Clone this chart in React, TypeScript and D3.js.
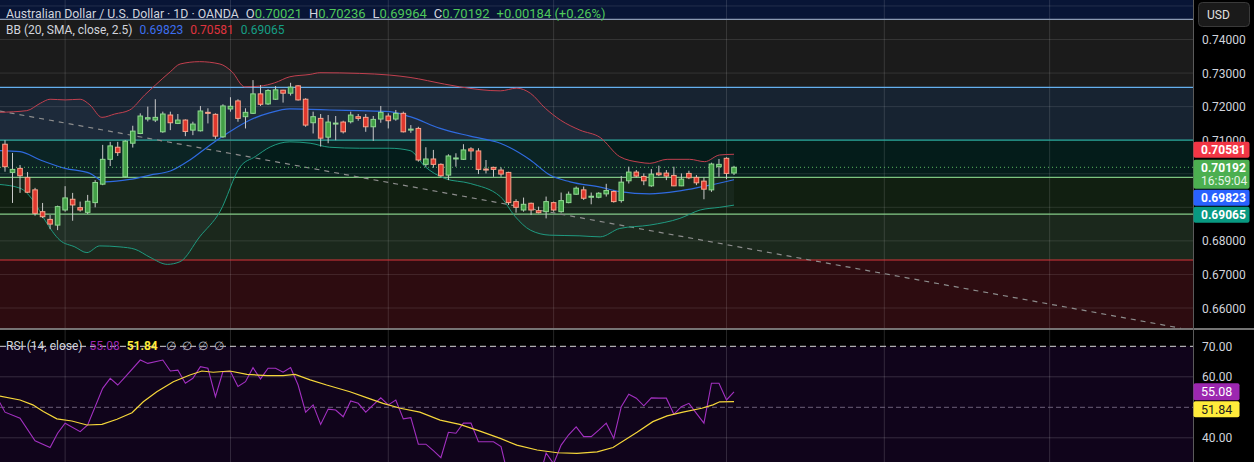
import React from 'react';
import * as d3 from 'd3';

// daily OHLC, AUD/USD
const opens = [
  0.7088, 0.7004, 0.7016, 0.6989, 0.6952, 0.6887, 0.6864, 0.6847, 0.6892, 0.6924,
  0.6899, 0.6885, 0.6914, 0.6969, 0.7043, 0.7079, 0.6991, 0.7091, 0.712, 0.7163,
  0.716, 0.7125, 0.7175, 0.715, 0.716, 0.713, 0.7128, 0.7183, 0.7177, 0.711,
  0.7193, 0.7217, 0.717, 0.718, 0.7238, 0.7208, 0.7222, 0.7249, 0.724, 0.7262,
  0.7222, 0.7152, 0.7165, 0.7109, 0.715, 0.7154, 0.7155, 0.717, 0.7168, 0.714,
  0.7163, 0.7172, 0.7163, 0.718, 0.7132, 0.7135, 0.7028, 0.7044, 0.7028, 0.6996,
  0.7046, 0.7043, 0.7074, 0.7068, 0.7014, 0.7019, 0.7011, 0.7004, 0.6917, 0.6892,
  0.6912, 0.689, 0.6887, 0.6914, 0.6887, 0.6914, 0.6939, 0.6952, 0.6932, 0.693,
  0.694, 0.6947, 0.692, 0.6979, 0.7005, 0.6992, 0.6964, 0.7002, 0.7002, 0.6995,
  0.6964, 0.7001, 0.6989, 0.6978, 0.6952, 0.7021, 0.7046, 0.70021,
];
const highs = [
  0.71, 0.7062, 0.7026, 0.7005, 0.6958, 0.6913, 0.6877, 0.6905, 0.6963, 0.6943,
  0.6917, 0.6937, 0.6981, 0.7086, 0.7095, 0.7095, 0.71, 0.7143, 0.718, 0.72,
  0.7222, 0.7185, 0.7185, 0.7178, 0.7162, 0.7155, 0.7202, 0.7195, 0.718, 0.7207,
  0.7228, 0.7222, 0.7195, 0.7279, 0.7264, 0.7252, 0.7261, 0.725, 0.7271, 0.7264,
  0.7225, 0.7185, 0.7178, 0.7175, 0.7172, 0.7158, 0.7185, 0.7178, 0.7178, 0.7172,
  0.7202, 0.718, 0.719, 0.7185, 0.7145, 0.714, 0.7079, 0.7071, 0.7031, 0.7058,
  0.7061, 0.7088, 0.7079, 0.7076, 0.7041, 0.7021, 0.7019, 0.7006, 0.6924, 0.6929,
  0.6914, 0.6902, 0.6932, 0.6917, 0.6944, 0.6947, 0.6962, 0.6962, 0.6944, 0.6945,
  0.697, 0.695, 0.6993, 0.7021, 0.7011, 0.7001, 0.7014, 0.7024, 0.7011, 0.7021,
  0.7001, 0.7009, 0.6996, 0.6989, 0.7033, 0.7044, 0.7049, 0.70236,
];
const lows = [
  0.7006, 0.6913, 0.6943, 0.6943, 0.6875, 0.6868, 0.6835, 0.6832, 0.6887, 0.686,
  0.6887, 0.688, 0.69, 0.6966, 0.7023, 0.7053, 0.6989, 0.7078, 0.7118, 0.7156,
  0.7154, 0.7122, 0.713, 0.7148, 0.7112, 0.7115, 0.7126, 0.715, 0.7104, 0.7107,
  0.7185, 0.7155, 0.7135, 0.7178, 0.7202, 0.7205, 0.722, 0.7212, 0.7233, 0.7218,
  0.714, 0.712, 0.7081, 0.7091, 0.71, 0.712, 0.715, 0.7158, 0.7125, 0.7098,
  0.7152, 0.7135, 0.7158, 0.7123, 0.7122, 0.7036, 0.7021, 0.7018, 0.6991, 0.6981,
  0.7021, 0.7041, 0.7041, 0.6999, 0.7001, 0.6991, 0.6991, 0.6907, 0.6884, 0.6887,
  0.6877, 0.6882, 0.6867, 0.6887, 0.6884, 0.6912, 0.6937, 0.6922, 0.6909, 0.6927,
  0.6932, 0.6914, 0.6914, 0.6971, 0.6989, 0.6966, 0.6961, 0.6993, 0.6981, 0.6963,
  0.6963, 0.6984, 0.6966, 0.6924, 0.6946, 0.6991, 0.6984, 0.69964,
];
const closes = [
  0.7021, 0.7013, 0.6994, 0.6945, 0.6882, 0.6872, 0.685, 0.6902, 0.6928, 0.6907,
  0.6892, 0.6918, 0.6974, 0.7043, 0.7083, 0.7063, 0.7097, 0.7127, 0.7172, 0.7167,
  0.7168, 0.7178, 0.7152, 0.716, 0.7126, 0.7148, 0.7187, 0.7182, 0.7112, 0.7202,
  0.7201, 0.7165, 0.7183, 0.7238, 0.7207, 0.7248, 0.725, 0.724, 0.7258, 0.722,
  0.7145, 0.717, 0.7106, 0.7154, 0.7151, 0.7125, 0.7175, 0.7165, 0.714, 0.7162,
  0.7183, 0.7158, 0.718, 0.7125, 0.7133, 0.7041, 0.7044, 0.7028, 0.6994, 0.7053,
  0.7047, 0.7071, 0.7068, 0.7013, 0.7013, 0.7013, 0.6999, 0.6914, 0.69, 0.6909,
  0.6892, 0.6884, 0.6917, 0.6892, 0.692, 0.6939, 0.6957, 0.6927, 0.6933, 0.6942,
  0.695, 0.6917, 0.6975, 0.7005, 0.6993, 0.6979, 0.6999, 0.6997, 0.6993, 0.6964,
  0.6984, 0.6988, 0.6973, 0.6954, 0.7029, 0.7028, 0.7001, 0.70192,
];

// Bollinger bands, sampled [bar index, price]
const bbUpper: [number, number][] = [
  [-0.7, 0.7183], [2.9, 0.7188], [4.7, 0.721], [6, 0.7222], [8, 0.722], [10, 0.7222],
  [11.3, 0.7205], [12.9, 0.7168], [14.6, 0.7178], [16.6, 0.719], [18.6, 0.7235],
  [20, 0.7264], [22, 0.7304], [23.3, 0.7327], [25.9, 0.7334], [28.6, 0.7327],
  [30.2, 0.7304], [31.9, 0.7259], [33.9, 0.7261], [35.9, 0.7271], [37.9, 0.7289],
  [40.6, 0.7296], [41.9, 0.7301], [47.2, 0.7299], [51.2, 0.7294], [53.9, 0.7287],
  [58.5, 0.7267], [60.5, 0.7259], [65.9, 0.7247], [68.1, 0.7255], [69.9, 0.724],
  [71.9, 0.7195], [73.9, 0.716], [76.5, 0.713], [79.2, 0.7108], [81.8, 0.7051],
  [84.5, 0.7034], [85.8, 0.7031], [88.1, 0.7043], [91.1, 0.7043], [93.1, 0.7036],
  [95.1, 0.7056], [97, 0.70581],
];
const bbBasis: [number, number][] = [
  [-0.7, 0.7069], [2, 0.7066], [4.7, 0.7041], [8, 0.7016], [11.3, 0.7001],
  [13.3, 0.6976], [16.6, 0.6983], [19.3, 0.6996], [22, 0.7008], [24.6, 0.7041],
  [27.3, 0.7086], [29.9, 0.7125], [32.6, 0.716], [35.3, 0.7182], [37.9, 0.7193],
  [40.6, 0.7192], [43.2, 0.719], [47.2, 0.7188], [51.2, 0.7185], [53.9, 0.717],
  [57.9, 0.7135], [61.9, 0.7112], [65.9, 0.7091], [69.9, 0.7041], [72.5, 0.6996],
  [75.2, 0.6976], [79.2, 0.696], [81.8, 0.6947], [85.8, 0.694], [89.8, 0.6949],
  [93.8, 0.6966], [97, 0.69823],
];
const bbLower: [number, number][] = [
  [-0.7, 0.6968], [2, 0.6957], [4, 0.6912], [5.3, 0.6862], [7.3, 0.6802],
  [9.3, 0.6782], [10.9, 0.6765], [12.6, 0.6785], [15.3, 0.6782], [17.3, 0.6775],
  [19.3, 0.6751], [21.6, 0.673], [23.3, 0.6738], [25.9, 0.6812], [28.6, 0.6887],
  [31.3, 0.7021], [33.3, 0.7051], [35.3, 0.708], [37.9, 0.7095], [40.6, 0.7091],
  [43.2, 0.7079], [47.2, 0.7076], [51.2, 0.7076], [53.9, 0.7069], [55.9, 0.7021],
  [58.5, 0.6986], [61.9, 0.6971], [65.9, 0.6932], [67.9, 0.6872], [69.9, 0.6832],
  [72.5, 0.6817], [76.5, 0.6815], [79.2, 0.6812], [81.8, 0.6837], [85.8, 0.6847],
  [89.8, 0.6867], [92.5, 0.6892], [95.1, 0.69], [97, 0.69065],
];

// RSI(14) and its moving average, [bar index, value]
const rsi: [number, number][] = [
  [-0.7, 51.6], [0, 48.4], [2, 46.4], [4, 39], [6, 36.8], [7, 41.5], [8, 44.8],
  [10, 42], [11, 44.2], [13, 56.2], [14, 59.5], [15, 57.3], [16, 60], [18, 65.5],
  [19, 64.4], [21, 65.5], [22, 61.9], [23, 62.2], [24, 57.9], [25, 59.5], [26, 63.3],
  [27, 62.8], [28, 53.5], [29, 61.7], [30, 61.7], [31, 56.8], [32, 58.4], [33, 63],
  [34, 59.3], [35, 62.8], [36, 62.8], [37, 61.5], [38, 63], [39, 57.3], [40, 48.4],
  [41, 50.8], [42, 44.4], [43, 49.4], [44, 49.1], [45, 46.9], [46, 52.1], [47, 51.3],
  [48, 48.4], [49, 50.8], [50, 53.1], [51, 50.8], [52, 52.4], [53, 46.2], [54, 46.6],
  [55, 37.9], [56, 37.9], [57, 35.8], [58, 33.5], [59, 41.8], [60, 41.5], [61, 44.8],
  [62, 44.8], [63, 38.7], [64, 38.7], [65, 38.7], [66, 37.1], [67, 27], [68, 25.5],
  [69, 28], [70, 26.5], [71, 26], [72, 35], [73, 31.5], [74, 37.6], [75, 41],
  [76, 43.6], [77, 40.4], [78, 40.4], [79, 42.5], [80, 44.8], [81, 39.8], [82, 50.2],
  [83, 54.3], [84, 53], [85, 50.5], [86, 53.1], [87, 53], [88, 53], [89, 47.7],
  [90, 50.2], [91, 51.3], [92, 48], [93, 44.8], [94, 57.9], [95, 57.9], [96, 52.4],
  [97, 55.08],
];
const rsiMa: [number, number][] = [
  [-0.7, 53.7], [2, 52.4], [3.7, 50.8], [5.1, 48.6], [6.9, 46.2], [8.9, 45.5],
  [10.9, 44.2], [12.9, 44.4], [14.9, 46.1], [16.9, 48.2], [18.4, 51.8], [20.2, 55.1],
  [22.4, 58.4], [24.6, 60.6], [26.2, 61.9], [27.7, 61.5], [29.9, 61.9], [32.2, 60.8],
  [34.9, 60.4], [37, 60.4], [38.6, 60.8], [40.6, 59], [42.8, 57.3], [45.9, 55.1],
  [48.2, 53.1], [50.3, 51.3], [52.6, 49.7], [55.2, 48.4], [57.9, 45.8], [60.5, 44.4],
  [63.2, 42.2], [65.9, 39.8], [68.1, 37.6], [70.8, 36], [73.5, 35.1], [76.1, 34.9],
  [78.8, 35.4], [80.9, 36.8], [84.1, 41.8], [86.2, 45.3], [88.1, 47.2], [90.2, 48.4],
  [92.7, 49.7], [94.2, 50.8], [95.1, 51.8], [97, 51.84],
];

// horizontal levels drawn on the chart (top to bottom) and the trend line
const levelPrices = [0.746, 0.72576, 0.71, 0.69894, 0.688, 0.6743];
const trendLine: [number, number][] = [[-0.7, 0.7187], [156.4, 0.654]];
const monthStarts = [8, 30, 51, 73, 96, 117, 139];
// axis labels that are not hidden behind the value tags
const priceTicks = [0.74, 0.73, 0.72, 0.71, 0.68, 0.67, 0.66];
const priceGrid = [0.75, 0.74, 0.73, 0.72, 0.71, 0.7, 0.69, 0.68, 0.67, 0.66, 0.65];
const rsiTicks = [70, 60, 40];

const W = 1254;
const H = 462;
const AXIS_X = 1193.5;
const PANE_BOTTOM = 328.5;
const RSI_TOP = 329.5;
const FONT = 'Roboto, "Noto Sans", sans-serif';

const bandColors = ['#081536', '#1b1b1b', '#172331', '#041c1a', '#111f11', '#1b281c', '#2d0c10'];
const levelColors = ['#8b9ab3', '#64b0ef', '#26a69a', '#7cc47f', '#86cc88', '#d8353b'];

const UP = '#43a047';
const UP_EDGE = '#8fd891';
const DOWN = '#e0382e';
const DOWN_EDGE = '#f7a48c';

const App: React.FC = () => {
  const x = d3.scaleLinear().domain([0, 97]).range([5, 734]);
  const y = d3.scaleLinear().domain([0.66, 0.74]).range([308, 39.5]);
  const yr = d3.scaleLinear().domain([40, 70]).range([437.8, 346.3]);

  const priceLine = d3
    .line<[number, number]>()
    .x((d) => x(d[0]))
    .y((d) => y(d[1]))
    .curve(d3.curveMonotoneX);
  const rsiLine = d3
    .line<[number, number]>()
    .x((d) => x(d[0]))
    .y((d) => yr(d[1]));

  const bandFill =
    priceLine(bbUpper) + 'L' + priceLine(bbLower.slice().reverse())!.slice(1) + 'Z';

  // level bands
  const edges = [0, ...levelPrices.map((p) => y(p)), PANE_BOTTOM];

  const last = closes.length - 1;
  const lastY = y(closes[last]);

  // right axis tags, stacked like TradingView does
  const greenTop = lastY - 7.5;
  const tags = [
    { top: greenTop - 18, h: 16, fill: '#f23645', text: bbUpper[bbUpper.length - 1][1].toFixed(5) },
    { top: greenTop + 30, h: 16, fill: '#2962ff', text: bbBasis[bbBasis.length - 1][1].toFixed(5) },
    { top: greenTop + 47, h: 16, fill: '#089981', text: bbLower[bbLower.length - 1][1].toFixed(5) },
  ];
  const rsiLast = rsi[rsi.length - 1][1];
  const maLast = rsiMa[rsiMa.length - 1][1];
  const purpleTop = yr(rsiLast) - 8.5;

  return (
    <svg
      width={W}
      height={H}
      style={{ position: 'absolute', left: 0, top: 0, background: '#000' }}
      fontFamily={FONT}
    >
      <defs>
        <clipPath id="pane">
          <rect x={0} y={0} width={AXIS_X} height={PANE_BOTTOM} />
        </clipPath>
        <clipPath id="rsiPane">
          <rect x={0} y={RSI_TOP} width={AXIS_X} height={H - RSI_TOP} />
        </clipPath>
      </defs>

      {/* price pane */}
      <g clipPath="url(#pane)">
        {bandColors.map((c, i) => (
          <rect key={i} x={0} y={edges[i]} width={AXIS_X} height={edges[i + 1] - edges[i]} fill={c} />
        ))}
        {priceGrid.map((p) => (
          <line key={p} x1={0} x2={AXIS_X} y1={y(p)} y2={y(p)} stroke="rgba(255,255,255,0.11)" />
        ))}
        {monthStarts.map((m) => (
          <line key={m} x1={x(m)} x2={x(m)} y1={0} y2={PANE_BOTTOM} stroke="rgba(255,255,255,0.13)" />
        ))}
        {levelPrices.map((p, i) => (
          <line key={p} x1={0} x2={AXIS_X} y1={y(p)} y2={y(p)} stroke={levelColors[i]} strokeWidth={1.2} />
        ))}
        <path d={bandFill} fill="rgba(130,170,210,0.06)" />
        <line
          x1={x(trendLine[0][0])}
          y1={y(trendLine[0][1])}
          x2={x(trendLine[1][0])}
          y2={y(trendLine[1][1])}
          stroke="#8c8c8c"
          strokeWidth={1.2}
          strokeDasharray="5,5"
        />
        <path d={priceLine(bbUpper)!} fill="none" stroke="#c2404f" strokeWidth={1} />
        <path d={priceLine(bbBasis)!} fill="none" stroke="#2f6be0" strokeWidth={1.2} />
        <path d={priceLine(bbLower)!} fill="none" stroke="#1f9a80" strokeWidth={1} />
        <line x1={0} x2={AXIS_X} y1={lastY} y2={lastY} stroke="#5cb85f" strokeDasharray="1,3" />

        {closes.map((c, i) => (
          <line key={'w' + i} x1={x(i)} x2={x(i)} y1={y(highs[i])} y2={y(lows[i])} stroke="#c9c9c9" />
        ))}
        {closes.map((c, i) => {
          const o = opens[i];
          const up = c >= o;
          const top = y(Math.max(o, c));
          const h = Math.max(1, y(Math.min(o, c)) - top);
          return (
            <rect
              key={'b' + i}
              x={x(i) - 2.3}
              y={top}
              width={4.6}
              height={h}
              fill={up ? UP : DOWN}
              stroke={up ? UP_EDGE : DOWN_EDGE}
              strokeWidth={1}
            />
          );
        })}
      </g>

      {/* header legend */}
      <text x={6} y={18} fontSize={13} fill="#d1d4dc">
        <tspan fontSize={12.3}>Australian Dollar / U.S. Dollar · 1D · OANDA</tspan>
        <tspan dx={7}>O</tspan>
        <tspan fill="#4fc85a">{opens[last].toFixed(5)}</tspan>
        <tspan dx={7}>H</tspan>
        <tspan fill="#4fc85a">{highs[last].toFixed(5)}</tspan>
        <tspan dx={7}>L</tspan>
        <tspan fill="#4fc85a">{lows[last].toFixed(5)}</tspan>
        <tspan dx={7}>C</tspan>
        <tspan fill="#4fc85a">{closes[last].toFixed(5)}</tspan>
        <tspan dx={7} fill="#4fc85a">+0.00184 (+0.26%)</tspan>
      </text>
      <text x={6} y={34} fontSize={12} fill="#d1d4dc">
        <tspan>BB (20, SMA, close, 2.5)</tspan>
        <tspan dx={7} fill="#3d6ff0">{bbBasis[bbBasis.length - 1][1].toFixed(5)}</tspan>
        <tspan dx={7} fill="#e0343f">{bbUpper[bbUpper.length - 1][1].toFixed(5)}</tspan>
        <tspan dx={7} fill="#159f86">{bbLower[bbLower.length - 1][1].toFixed(5)}</tspan>
      </text>

      {/* RSI pane */}
      <g clipPath="url(#rsiPane)">
        <rect x={0} y={yr(70)} width={AXIS_X} height={H - yr(70)} fill="#10041b" />
        {[60, 40].map((t) => (
          <line key={t} x1={0} x2={AXIS_X} y1={yr(t)} y2={yr(t)} stroke="rgba(255,255,255,0.16)" />
        ))}
        {monthStarts.map((m) => (
          <line key={m} x1={x(m)} x2={x(m)} y1={RSI_TOP} y2={H} stroke="rgba(255,255,255,0.15)" />
        ))}
        <line x1={0} x2={AXIS_X} y1={yr(50)} y2={yr(50)} stroke="#6c5f78" strokeDasharray="5,3" />
        <line x1={0} x2={AXIS_X} y1={yr(70)} y2={yr(70)} stroke="#d8d8d8" strokeDasharray="6,4" />
        <path d={rsiLine(rsi)!} fill="none" stroke="#a230c0" strokeWidth={1.1} />
        <path d={rsiLine(rsiMa)!} fill="none" stroke="#f5d63a" strokeWidth={1.2} />
      </g>
      <text x={6} y={350} fontSize={12} fill="#d1d4dc">
        <tspan>RSI (14, close)</tspan>
        <tspan dx={7} fill="#9c27b0">{rsiLast.toFixed(2)}</tspan>
        <tspan dx={7} fill="#ffeb3b" fontWeight="bold">{maLast.toFixed(2)}</tspan>
        <tspan dx={8} fill="#b2b5be">∅</tspan>
        <tspan dx={6} fill="#b2b5be">∅</tspan>
        <tspan dx={6} fill="#b2b5be">∅</tspan>
        <tspan dx={6} fill="#b2b5be">∅</tspan>
      </text>

      {/* separators */}
      <line x1={0} x2={W} y1={RSI_TOP - 0.5} y2={RSI_TOP - 0.5} stroke="#e6e6e6" strokeWidth={1.2} />
      <line x1={AXIS_X} x2={AXIS_X} y1={0} y2={H} stroke="#5a5a5a" />

      {/* price axis */}
      <rect x={1198.5} y={2.5} width={51} height={24} rx={4} fill="#1a1a1a" stroke="#3a3a3a" />
      <text x={1207} y={19} fontSize={12} fill="#e0e0e0">USD</text>
      {priceTicks.map((p) => (
        <text key={p} x={1202} y={y(p) + 4.5} fontSize={12} fill="#d1d4dc">
          {p.toFixed(5)}
        </text>
      ))}
      {rsiTicks.map((t) => (
        <text key={t} x={1202} y={yr(t) + 4.5} fontSize={12} fill="#d1d4dc">
          {t.toFixed(2)}
        </text>
      ))}

      {tags.map((t) => (
        <g key={t.text}>
          <rect x={AXIS_X} y={t.top} width={56} height={t.h} rx={2} fill={t.fill} />
          <text x={1201} y={t.top + 12.5} fontSize={12} fontWeight="bold" fill="#fff">
            {t.text}
          </text>
        </g>
      ))}
      <rect x={AXIS_X} y={greenTop} width={56} height={29} rx={2} fill="#4caf50" />
      <text x={1201} y={greenTop + 12} fontSize={12} fontWeight="bold" fill="#fff">
        {closes[last].toFixed(5)}
      </text>
      <text x={1201} y={greenTop + 25.5} fontSize={12} fill="#e6f5e6">
        16:59:04
      </text>

      <rect x={AXIS_X} y={purpleTop} width={46} height={17} rx={2} fill="#9c27b0" />
      <text x={1201} y={purpleTop + 13} fontSize={12.5} fill="#fff">
        {rsiLast.toFixed(2)}
      </text>
      <rect x={AXIS_X} y={purpleTop + 18} width={46} height={16} rx={2} fill="#ffeb3b" />
      <text x={1201} y={purpleTop + 30.5} fontSize={12.5} fill="#222">
        {maLast.toFixed(2)}
      </text>
    </svg>
  );
};

export default App;
